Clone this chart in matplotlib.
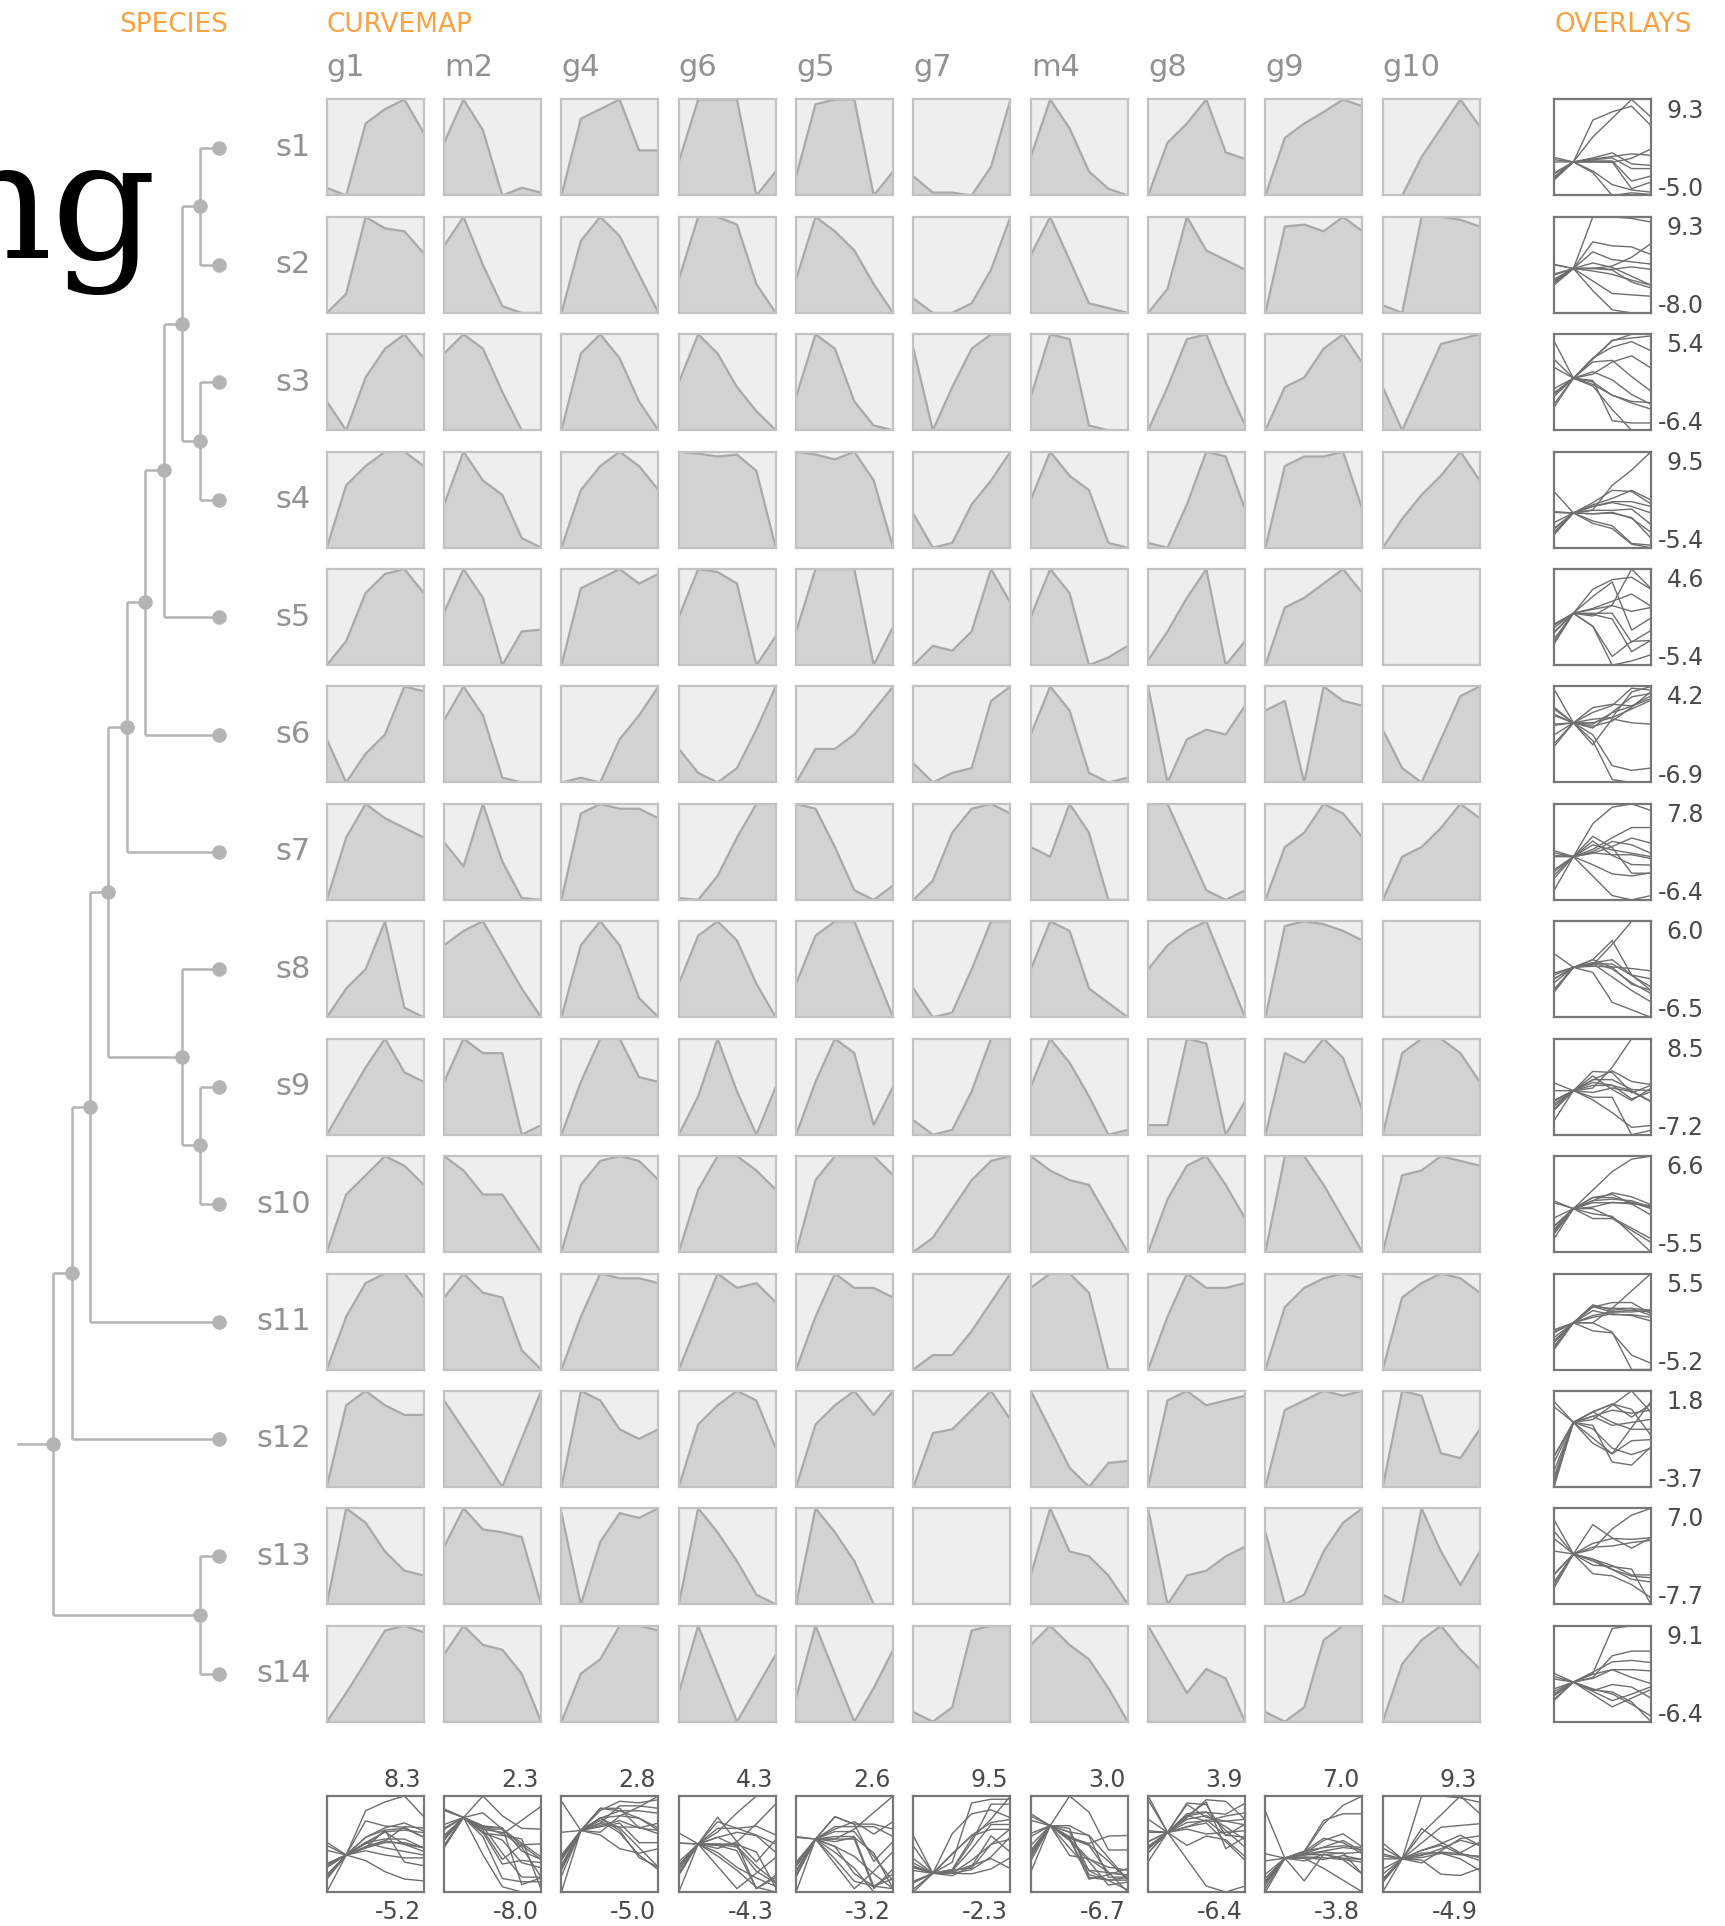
import numpy as np
import matplotlib
matplotlib.use("Agg")
import matplotlib.pyplot as plt

# ---------------------------------------------------------------- data
species = ["s1", "s2", "s3", "s4", "s5", "s6", "s7",
           "s8", "s9", "s10", "s11", "s12", "s13", "s14"]
genes = ["g1", "m2", "g4", "g6", "g5", "g7", "m4", "g8", "g9", "g10"]
timepoints = [0, 1, 2, 3, 4, 5]

# Min-max scaled expression profile per species (None = not measured).
# Each profile is anchored at the second time point (reference sample)
# and stretched by the dynamic range listed in the matching *_range list.
g1_profile = [
    [0.08, 0.0, 0.75, 0.9, 1.0, 0.65], [0.0, 0.2, 1.0, 0.88, 0.85, 0.62],
    [0.3, 0.0, 0.55, 0.85, 1.0, 0.75], [0.0, 0.65, 0.85, 1.0, 1.0, 0.85],
    [0.0, 0.25, 0.75, 0.95, 1.0, 0.75], [0.45, 0.0, 0.3, 0.5, 1.0, 0.95],
    [0.0, 0.65, 1.0, 0.85, 0.75, 0.65], [0.0, 0.3, 0.5, 1.0, 0.1, 0.0],
    [0.0, 0.35, 0.7, 1.0, 0.65, 0.55], [0.0, 0.6, 0.8, 1.0, 0.9, 0.7],
    [0.0, 0.55, 0.9, 1.0, 1.0, 0.75], [0.0, 0.85, 1.0, 0.85, 0.75, 0.75],
    [0.0, 1.0, 0.85, 0.55, 0.35, 0.3], [0.0, 0.3, 0.62, 0.95, 1.0, 0.93]]
m2_profile = [
    [0.55, 1.0, 0.68, 0.0, 0.08, 0.03], [0.7, 1.0, 0.5, 0.07, 0.0, 0.0],
    [0.8, 1.0, 0.85, 0.4, 0.0, 0.0], [0.45, 1.0, 0.7, 0.55, 0.1, 0.0],
    [0.55, 1.0, 0.7, 0.0, 0.35, 0.37], [0.65, 1.0, 0.7, 0.05, 0.0, 0.0],
    [0.6, 0.35, 1.0, 0.4, 0.02, 0.0], [0.75, 0.9, 1.0, 0.65, 0.3, 0.0],
    [0.55, 1.0, 0.85, 0.85, 0.0, 0.1], [1.0, 0.85, 0.6, 0.6, 0.3, 0.0],
    [0.75, 1.0, 0.8, 0.75, 0.2, 0.0], [0.9, 0.6, 0.3, 0.0, 0.5, 1.0],
    [0.6, 1.0, 0.78, 0.75, 0.7, 0.0], [0.7, 1.0, 0.8, 0.75, 0.5, 0.0]]
g4_profile = [
    [0.0, 0.8, 0.9, 1.0, 0.47, 0.47], [0.0, 0.75, 1.0, 0.8, 0.4, 0.0],
    [0.0, 0.8, 1.0, 0.75, 0.3, 0.0], [0.0, 0.6, 0.85, 1.0, 0.85, 0.6],
    [0.0, 0.8, 0.9, 1.0, 0.85, 0.95], [0.0, 0.05, 0.0, 0.45, 0.7, 1.0],
    [0.0, 0.9, 1.0, 0.95, 0.95, 0.85], [0.0, 0.75, 1.0, 0.75, 0.2, 0.0],
    [0.0, 0.55, 1.0, 1.0, 0.6, 0.55], [0.0, 0.7, 0.95, 1.0, 0.95, 0.75],
    [0.0, 0.55, 1.0, 0.95, 0.95, 0.9], [0.0, 1.0, 0.9, 0.6, 0.5, 0.6],
    [0.95, 0.0, 0.65, 0.95, 0.9, 1.0], [0.0, 0.5, 0.65, 1.0, 1.0, 0.95]]
g6_profile = [
    [0.35, 1.0, 1.0, 1.0, 0.0, 0.25], [0.35, 1.0, 1.0, 0.92, 0.3, 0.0],
    [0.5, 1.0, 0.8, 0.45, 0.2, 0.0], [1.0, 0.98, 0.95, 0.97, 0.8, 0.0],
    [0.5, 1.0, 0.97, 0.85, 0.0, 0.3], [0.35, 0.1, 0.0, 0.15, 0.55, 1.0],
    [0.02, 0.0, 0.25, 0.65, 1.0, 1.0], [0.35, 0.85, 1.0, 0.8, 0.35, 0.0],
    [0.0, 0.4, 1.0, 0.45, 0.0, 0.5], [0.0, 0.65, 1.0, 1.0, 0.85, 0.65],
    [0.0, 0.5, 1.0, 0.85, 0.9, 0.7], [0.0, 0.65, 0.85, 1.0, 0.9, 0.4],
    [0.0, 1.0, 0.75, 0.45, 0.1, 0.0], [0.3, 1.0, 0.5, 0.0, 0.35, 0.7]]
g5_profile = [
    [0.2, 0.95, 1.0, 1.0, 0.0, 0.25], [0.35, 1.0, 0.85, 0.65, 0.3, 0.0],
    [0.35, 1.0, 0.85, 0.3, 0.05, 0.0], [1.0, 0.97, 0.92, 1.0, 0.7, 0.0],
    [0.35, 1.0, 1.0, 1.0, 0.0, 0.4], [0.0, 0.35, 0.35, 0.5, 0.75, 1.0],
    [1.0, 0.95, 0.55, 0.1, 0.0, 0.15], [0.35, 0.85, 1.0, 1.0, 0.5, 0.0],
    [0.0, 0.55, 1.0, 0.85, 0.1, 0.5], [0.0, 0.75, 1.0, 1.0, 1.0, 0.8],
    [0.0, 0.55, 1.0, 0.85, 0.85, 0.75], [0.0, 0.65, 0.85, 1.0, 0.75, 1.0],
    [0.0, 1.0, 0.75, 0.45, 0.0, 0.0], [0.25, 1.0, 0.5, 0.0, 0.35, 0.75]]
g7_profile = [
    [0.2, 0.03, 0.03, 0.0, 0.3, 1.0], [0.15, 0.0, 0.0, 0.1, 0.45, 1.0],
    [0.85, 0.0, 0.45, 0.85, 1.0, 1.0], [0.35, 0.0, 0.05, 0.45, 0.7, 1.0],
    [0.0, 0.2, 0.15, 0.35, 1.0, 0.65], [0.2, 0.0, 0.1, 0.15, 0.85, 1.0],
    [0.0, 0.2, 0.7, 0.95, 1.0, 0.9], [0.3, 0.0, 0.05, 0.5, 1.0, 1.0],
    [0.15, 0.0, 0.05, 0.45, 1.0, 1.0], [0.0, 0.15, 0.45, 0.75, 0.95, 1.0],
    [0.0, 0.15, 0.15, 0.4, 0.7, 1.0], [0.0, 0.56, 0.6, 0.8, 1.0, 0.7],
    None, [0.1, 0.0, 0.15, 0.95, 1.0, 1.0]]
m4_profile = [
    [0.4, 1.0, 0.7, 0.25, 0.07, 0.0], [0.6, 1.0, 0.55, 0.1, 0.05, 0.0],
    [0.35, 1.0, 0.95, 0.05, 0.0, 0.0], [0.5, 1.0, 0.75, 0.6, 0.05, 0.0],
    [0.5, 1.0, 0.75, 0.0, 0.08, 0.2], [0.5, 1.0, 0.75, 0.1, 0.0, 0.05],
    [0.55, 0.45, 1.0, 0.7, 0.0, 0.0], [0.5, 1.0, 0.9, 0.3, 0.15, 0.0],
    [0.5, 1.0, 0.75, 0.4, 0.0, 0.05], [1.0, 0.85, 0.75, 0.7, 0.35, 0.0],
    [0.85, 1.0, 1.0, 0.8, 0.0, 0.0], [1.0, 0.6, 0.2, 0.0, 0.25, 0.27],
    [0.3, 1.0, 0.55, 0.5, 0.3, 0.0], [0.8, 1.0, 0.8, 0.65, 0.35, 0.0]]
g8_profile = [
    [0.0, 0.55, 0.75, 1.0, 0.45, 0.38], [0.0, 0.25, 1.0, 0.65, 0.55, 0.45],
    [0.0, 0.45, 0.95, 1.0, 0.5, 0.05], [0.05, 0.0, 0.45, 1.0, 0.95, 0.4],
    [0.05, 0.35, 0.7, 1.0, 0.0, 0.25], [1.0, 0.0, 0.45, 0.55, 0.5, 0.8],
    [1.0, 1.0, 0.55, 0.1, 0.0, 0.1], [0.5, 0.75, 0.9, 1.0, 0.5, 0.0],
    [0.1, 0.1, 1.0, 0.95, 0.0, 0.35], [0.0, 0.55, 0.9, 1.0, 0.7, 0.35],
    [0.0, 0.55, 1.0, 0.85, 0.85, 0.9], [0.0, 0.9, 1.0, 0.85, 0.9, 0.95],
    [1.0, 0.0, 0.3, 0.35, 0.5, 0.6], [1.0, 0.65, 0.3, 0.55, 0.45, 0.0]]
g9_profile = [
    [0.0, 0.6, 0.75, 0.87, 1.0, 0.93], [0.0, 0.9, 0.92, 0.85, 1.0, 0.85],
    [0.0, 0.45, 0.55, 0.85, 1.0, 0.7], [0.0, 0.85, 0.95, 0.95, 1.0, 0.4],
    [0.0, 0.6, 0.7, 0.85, 1.0, 0.75], [0.75, 0.85, 0.0, 1.0, 0.85, 0.8],
    [0.0, 0.55, 0.7, 1.0, 0.9, 0.65], [0.0, 0.95, 1.0, 0.97, 0.9, 0.8],
    [0.0, 0.85, 0.75, 1.0, 0.8, 0.25], [0.0, 1.0, 1.0, 0.7, 0.35, 0.0],
    [0.0, 0.65, 0.85, 0.95, 1.0, 0.95], [0.0, 0.8, 0.9, 1.0, 0.95, 1.0],
    [0.75, 0.0, 0.1, 0.55, 0.85, 1.0], [0.1, 0.0, 0.15, 0.85, 1.0, 1.0]]
g10_profile = [
    [0.0, 0.0, 0.4, 0.7, 1.0, 0.72], [0.08, 0.0, 1.0, 1.0, 0.97, 0.9],
    [0.45, 0.0, 0.45, 0.9, 0.95, 1.0], [0.0, 0.3, 0.55, 0.75, 1.0, 0.7],
    None, [0.55, 0.15, 0.0, 0.45, 0.9, 1.0],
    [0.0, 0.45, 0.55, 0.75, 1.0, 0.85], None,
    [0.0, 0.85, 1.0, 1.0, 0.85, 0.55], [0.0, 0.8, 0.85, 1.0, 0.95, 0.9],
    [0.0, 0.75, 0.9, 1.0, 0.95, 0.8], [0.0, 1.0, 0.95, 0.35, 0.3, 0.6],
    [0.1, 0.0, 1.0, 0.55, 0.2, 0.55], [0.0, 0.6, 0.85, 1.0, 0.75, 0.55]]

# Dynamic range (max - min of the log ratio) per species, one list per gene.
g1_range = [8.3, 6.0, 4.5, 5.0, 5.0, 4.0, 5.0, 5.0, 5.0, 5.0, 5.0, 4.0, 5.2, 5.0]
m2_range = [5.0, 8.0, 6.4, 5.4, 4.5, 6.9, 3.55, 5.0, 7.2, 5.0, 4.5, 3.0, 7.7, 6.4]
g4_range = [3.0, 4.0, 4.0, 4.0, 4.0, 2.95, 5.56, 4.0, 4.0, 4.0, 4.0, 3.7, 2.5, 4.0]
g6_range = [4.0, 3.5, 3.8, 4.0, 4.0, 4.0, 4.3, 4.0, 4.0, 4.0, 4.0, 3.0, 4.3, 4.0]
g5_range = [3.0, 3.0, 3.0, 3.1, 3.0, 4.0, 3.0, 3.0, 3.0, 3.0, 3.0, 3.0, 3.2, 3.0]
g7_range = [2.0, 4.5, 5.4, 9.5, 5.75, 4.2, 9.75, 6.0, 8.5, 7.8, 6.45, 4.1, 0.0, 9.1]
m4_range = [4.5, 5.0, 5.5, 5.0, 5.4, 5.5, 5.45, 6.5, 6.0, 6.45, 5.2, 3.0, 6.7, 5.5]
g8_range = [3.0, 4.0, 4.0, 3.5, 5.0, 3.9, 6.4, 4.0, 3.5, 4.0, 4.0, 3.5, 3.5, 4.0]
g9_range = [3.0, 3.0, 5.0, 4.0, 5.0, 3.0, 5.0, 3.0, 3.0, 3.8, 4.0, 3.5, 7.0, 5.0]
g10_range = [9.3, 9.3, 5.2, 5.0, 0.0, 4.0, 5.0, 0.0, 5.77, 4.0, 4.0, 3.5, 4.5, 5.0]

# Species tree (scipy-style linkage: child a, child b, merge level)
linkage = [
    [0, 1, 1], [2, 3, 1], [14, 15, 2], [16, 4, 3], [17, 5, 4],
    [18, 6, 5], [8, 9, 1], [7, 20, 2], [19, 21, 6], [22, 10, 7],
    [23, 11, 8], [12, 13, 1], [24, 25, 9],
]
root_stub = 10.9

profiles = [g1_profile, m2_profile, g4_profile, g6_profile, g5_profile,
            g7_profile, m4_profile, g8_profile, g9_profile, g10_profile]
ranges = [g1_range, m2_range, g4_range, g6_range, g5_range,
          g7_range, m4_range, g8_range, g9_range, g10_range]

# log ratios relative to the reference time point
levels = [[None if p is None else (np.asarray(p) - p[1]) * r
           for p, r in zip(prof, rng)] for prof, rng in zip(profiles, ranges)]

# ---------------------------------------------------------------- layout
W, H, DPI = 1725, 1926, 100
fig = plt.figure(figsize=(W / DPI, H / DPI), dpi=DPI)
fig.patch.set_facecolor("white")


def rect(x, y, w, h):
    return [x / W, 1 - (y + h) / H, w / W, h / H]


def fxy(x, y):
    return x / W, 1 - y / H


COL_X0, COL_DX, CELL_W = 326.8, 117.33, 97.0
ROW_Y0, ROW_DY, CELL_H = 99.5, 117.4, 96.0
OVL_X = 1554.0
BOT_Y = 1796.0

ORANGE = "#f8a243"
LABEL_GREY = "#929292"
NUM_COL = "#4a4a4a"
TREE_COL = "#b4b4b4"
NUM_SIZE = 17


def style_box(ax, face, edge, lw):
    ax.set_facecolor(face)
    ax.set_xticks([])
    ax.set_yticks([])
    for s in ax.spines.values():
        s.set_color(edge)
        s.set_linewidth(lw)
    ax.set_xlim(timepoints[0], timepoints[-1])


# headers
fig.text(*fxy(228.5, 25), "SPECIES", ha="right", va="center",
         fontsize=19, color=ORANGE)
fig.text(*fxy(326.8, 25), "CURVEMAP", ha="left", va="center",
         fontsize=19, color=ORANGE)
fig.text(*fxy(1554, 25), "OVERLAYS", ha="left", va="center",
         fontsize=19, color=ORANGE)
fig.text(*fxy(156, 258), "ng", ha="right", va="baseline", fontsize=118,
         family="DejaVu Serif", color="black")

# gene column labels
for j, g in enumerate(genes):
    fig.text(*fxy(COL_X0 + j * COL_DX, 68), g, ha="left", va="center",
             fontsize=22, color=LABEL_GREY)

# curve map
for i, sp in enumerate(species):
    y = ROW_Y0 + i * ROW_DY
    fig.text(*fxy(311, y + CELL_H / 2), sp, ha="right", va="center",
             fontsize=22, color=LABEL_GREY)
    for j in range(len(genes)):
        ax = fig.add_axes(rect(COL_X0 + j * COL_DX, y, CELL_W, CELL_H))
        style_box(ax, "#eeeeee", "#c2c2c2", 1.6)
        v = levels[j][i]
        if v is None:
            continue
        lo, hi = v.min(), v.max()
        ax.fill_between(timepoints, v, lo, color="#d2d2d2", lw=0)
        ax.plot(timepoints, v, color="#a9a9a9", lw=1.6)
        ax.set_ylim(lo, hi)

# row overlays
for i in range(len(species)):
    y = ROW_Y0 + i * ROW_DY
    ax = fig.add_axes(rect(OVL_X, y, CELL_W, CELL_H))
    style_box(ax, "white", "#777777", 1.6)
    curves = [levels[j][i] for j in range(len(genes)) if levels[j][i] is not None]
    lo = min(c.min() for c in curves)
    hi = max(c.max() for c in curves)
    for c in curves:
        ax.plot(timepoints, c, color="#6e6e6e", lw=1.0)
    ax.set_ylim(lo, hi)
    fig.text(*fxy(1704, y + 11), f"{hi:.1f}", ha="right", va="center",
             fontsize=NUM_SIZE, color=NUM_COL)
    fig.text(*fxy(1704, y + CELL_H - 7), f"{lo:.1f}", ha="right", va="center",
             fontsize=NUM_SIZE, color=NUM_COL)

# column overlays
for j in range(len(genes)):
    x = COL_X0 + j * COL_DX
    ax = fig.add_axes(rect(x, BOT_Y, CELL_W, CELL_H))
    style_box(ax, "white", "#777777", 1.6)
    curves = [v for v in levels[j] if v is not None]
    lo = min(c.min() for c in curves)
    hi = max(c.max() for c in curves)
    for c in curves:
        ax.plot(timepoints, c, color="#6e6e6e", lw=1.0)
    ax.set_ylim(lo, hi)
    fig.text(*fxy(x + CELL_W - 2.5, BOT_Y - 16), f"{hi:.1f}", ha="right",
             va="center", fontsize=NUM_SIZE, color=NUM_COL)
    fig.text(*fxy(x + CELL_W - 2.5, BOT_Y + CELL_H + 20), f"{lo:.1f}",
             ha="right", va="center", fontsize=NUM_SIZE, color=NUM_COL)

# species tree
LEAF_X, STEP = 218.7, 18.4
cy0 = ROW_Y0 + CELL_H / 2
tax = fig.add_axes(rect(0, cy0 - ROW_DY / 2, 245, ROW_DY * len(species)))
tax.set_xlim(LEAF_X / STEP, (LEAF_X - 245) / STEP)
tax.set_ylim(len(species) - 0.5, -0.5)
tax.axis("off")

node_x = {k: 0.0 for k in range(len(species))}
node_y = {k: float(k) for k in range(len(species))}
for n, (a, b, lev) in enumerate(linkage):
    k = len(species) + n
    node_x[k] = lev
    node_y[k] = (node_y[a] + node_y[b]) / 2
    tax.plot([lev, lev], [node_y[a], node_y[b]], color=TREE_COL, lw=1.8,
             solid_capstyle="butt")
    for c in (a, b):
        tax.plot([lev, node_x[c]], [node_y[c], node_y[c]], color=TREE_COL,
                 lw=1.8, solid_capstyle="butt")
root = len(species) + len(linkage) - 1
tax.plot([node_x[root], root_stub], [node_y[root], node_y[root]],
         color=TREE_COL, lw=1.8)
tax.scatter([node_x[k] for k in node_x], [node_y[k] for k in node_y],
            s=110, color=TREE_COL, zorder=3, lw=0)

fig.savefig("out.png", dpi=DPI, facecolor="white")
